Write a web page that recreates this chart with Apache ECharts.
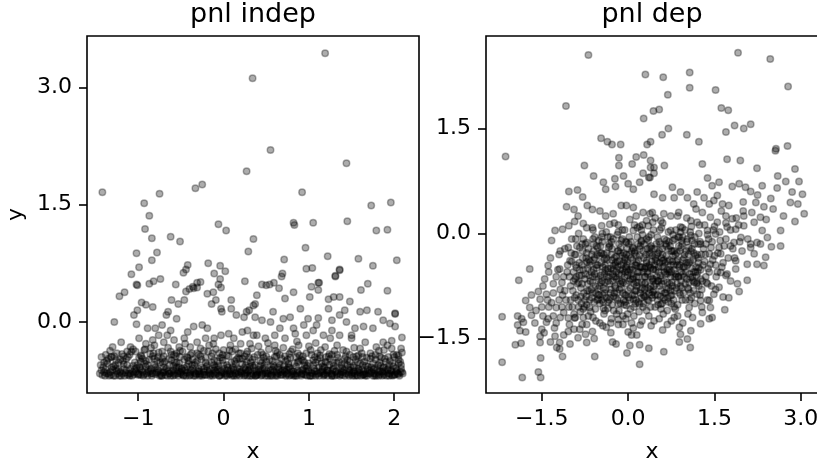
<!DOCTYPE html>
<html>
<head>
<meta charset="utf-8">
<script src="https://cdn.jsdelivr.net/npm/echarts@6/dist/echarts.min.js"></script>
<style>
  html, body { margin: 0; padding: 0; background: #fff; }
  #chart { width: 817px; height: 461px; }
</style>
</head>
<body>
<div id="chart"></div>
<script>
// pnl indep: points, [x, y]
const indepUpper = [
  [-1.42,1.66],[1.19,3.44],[0.34,3.12],[0.55,2.20],[0.27,1.93],[1.44,2.03],[-0.33,1.71],[-0.25,1.76],[-0.75,1.64],[-0.93,1.52],
  [-0.87,1.36],[0.92,1.66],[1.73,1.49],[1.96,1.53],[-0.06,1.25],[0.82,1.27],[0.83,1.24],[1.05,1.27],[1.45,1.29],[-0.92,1.19],
  [0.03,1.17],[1.79,1.17],[1.92,1.18],[-0.84,1.07],[-0.62,1.09],[-0.51,1.03],[0.35,1.06],[-1.02,0.88],[-0.78,0.89],[-0.84,0.79],
  [0.29,0.90],[0.96,0.95],[1.22,0.84],[0.71,0.80],[1.58,0.81],[1.75,0.72],[2.03,0.79],[-1.08,0.61],[-0.99,0.70],[-1.02,0.48],
  [-0.87,0.49],[-0.82,0.52],[-0.74,0.55],[-0.47,0.63],[-0.42,0.73],[-0.44,0.67],[-0.18,0.75],[-0.04,0.72],[0.02,0.65],[-0.11,0.62],
  [-0.04,0.55],[-0.06,0.48],[-0.56,0.48],[-0.31,0.50],[-0.36,0.45],[-0.40,0.42],[0.25,0.52],[0.97,0.68],[1.04,0.69],[0.69,0.62],
  [0.45,0.48],[0.50,0.47],[0.59,0.50],[0.65,0.43],[1.11,0.50],[1.03,0.45],[1.11,0.41],[1.31,0.59],[1.36,0.66],[1.61,0.41],
  [1.69,0.49],[1.92,0.40],[1.36,0.67],[1.31,0.58],[0.68,0.58],[0.54,0.48],[1.12,0.50],[-1.22,0.33],[-1.16,0.38],[-1.01,0.47],
  [-0.27,0.51]
];
const indepMiddle = [
  [-1.28,0.00],[-1.02,-0.03],[-1.05,0.09],[-1.01,0.15],[-0.96,0.25],[-0.91,0.22],[-0.83,0.19],[-0.65,0.13],[-0.67,0.09],[-0.61,0.28],
  [-0.53,0.23],[-0.55,0.04],[-0.46,0.28],[-0.44,0.39],[-0.35,0.43],[-0.31,0.44],[-0.19,0.36],[-0.12,0.38],[-0.03,0.44],[-0.09,0.28],
  [-0.14,0.23],[-0.03,0.17],[-0.02,0.13],[0.09,0.28],[0.09,0.17],[0.15,0.09],[0.24,0.06],[0.27,0.13],[0.30,0.15],[0.37,0.23],
  [0.37,0.06],[0.82,0.38],[0.72,0.30],[1.01,0.32],[1.23,0.29],[1.29,0.32],[1.36,0.32],[1.48,0.26],[0.39,0.34],[0.35,0.21],
  [0.58,0.13],[0.70,0.04],[0.78,0.06],[0.90,0.17],[0.99,0.04],[0.45,0.02],[0.55,0.00],[0.66,-0.08],[0.82,-0.08],[0.94,-0.04],
  [1.09,-0.04],[1.23,0.17],[1.27,0.02],[1.36,0.09],[1.42,0.15],[1.44,0.00],[1.60,0.13],[1.68,0.15],[1.81,0.13],[1.87,0.02],
  [1.95,-0.02],[2.01,0.11],[2.01,-0.06],[1.54,-0.08],[1.64,-0.06],[1.36,-0.17],[1.50,-0.17],[1.75,-0.08],[1.17,-0.17],[1.25,-0.21],
  [0.39,-0.17],[0.49,-0.21],[0.60,-0.17],[0.72,-0.21],[0.84,-0.15],[0.97,-0.17],[1.05,-0.11],[1.27,-0.11],[1.87,-0.26],[1.97,-0.24],
  [2.08,-0.34],[1.97,-0.34],[1.79,-0.32],[1.66,-0.26],[1.50,-0.21],[1.60,-0.34],[1.27,-0.42],[1.40,-0.36],[1.48,-0.42],[2.01,0.10],
  [-0.89,-0.08],[-0.80,-0.08],[-0.72,-0.04],[-0.62,-0.11],[-0.76,-0.17],[-0.83,-0.23],[-0.91,-0.28],[-0.99,-0.21],[-1.09,-0.32],[-1.20,-0.26],
  [-1.30,-0.32],[-1.31,-0.45],[-1.13,-0.38],[-1.03,-0.38],[-0.93,-0.36],[-0.81,-0.30],[-0.70,-0.26],[-0.66,-0.17],[-0.58,-0.23],[-0.46,-0.21],
  [-0.42,-0.13],[-0.35,-0.06],[-0.25,-0.04],[-0.19,-0.08],[-0.21,-0.21],[-0.31,-0.26],[-0.39,-0.32],[-0.27,-0.34],[-0.17,-0.30],[-0.11,-0.21],
  [-0.03,-0.17],[0.06,-0.15],[0.12,-0.21],[0.22,-0.13],[0.28,-0.11],[0.35,-0.17],[0.31,-0.28],[0.20,-0.28],[0.08,-0.30],[0.00,-0.36],
  [-0.05,-0.40],[-0.52,-0.32],[-0.62,-0.38],[-0.72,-0.38],[-0.48,-0.38],[-0.37,-0.40],[0.18,-0.40],[0.28,-0.38],[-1.38,-0.42],[-1.25,-0.40],
  [-1.17,-0.44],[-0.97,-0.43],[-0.86,-0.41],[-0.77,-0.45],[-0.56,-0.44],[-0.43,-0.45],[-0.29,-0.42],[-0.14,-0.44],[-0.09,-0.35],[0.04,-0.43],
  [0.14,-0.35],[0.25,-0.44],[0.41,-0.31],[0.46,-0.42],[0.53,-0.35],[0.62,-0.44],[0.70,-0.33],[0.77,-0.41],[0.88,-0.30],[0.93,-0.44],
  [1.02,-0.36],[1.08,-0.27],[1.13,-0.43],[1.19,-0.32],[1.33,-0.30],[1.56,-0.44],[1.72,-0.40],[1.83,-0.44],[1.92,-0.30],[2.05,-0.43],
  [2.09,-0.20],[1.11,0.05],[0.86,-0.25],[0.60,-0.30]
];
const indepLower = [
  [-1.45,-0.66],[-1.41,-0.58],[-1.39,-0.69],[-1.36,-0.53],[-1.33,-0.64],[-1.32,-0.68],[-1.29,-0.57],[-1.26,-0.49],[-1.24,-0.66],[-1.23,-0.61],
  [-1.20,-0.69],[-1.17,-0.54],[-1.15,-0.65],[-1.14,-0.47],[-1.12,-0.68],[-1.09,-0.60],[-1.07,-0.69],[-1.06,-0.56],[-1.03,-0.64],[-1.00,-0.68],
  [-0.97,-0.51],[-0.96,-0.62],[-0.94,-0.69],[-0.91,-0.57],[-0.90,-0.66],[-0.87,-0.48],[-0.86,-0.63],[-0.84,-0.69],[-0.81,-0.55],[-0.80,-0.67],
  [-0.78,-0.60],[-0.75,-0.69],[-0.74,-0.52],[-0.71,-0.65],[-0.70,-0.58],[-0.68,-0.68],[-0.65,-0.63],[-0.64,-0.47],[-0.62,-0.69],[-0.59,-0.56],
  [-0.58,-0.66],[-0.56,-0.61],[-0.53,-0.69],[-0.52,-0.53],[-0.50,-0.64],[-0.47,-0.68],[-0.46,-0.59],[-0.44,-0.69],[-0.41,-0.50],[-0.40,-0.66],
  [-0.38,-0.62],[-0.35,-0.69],[-0.34,-0.55],[-0.32,-0.67],[-0.29,-0.60],[-0.28,-0.69],[-0.26,-0.48],[-0.23,-0.64],[-0.22,-0.68],[-0.20,-0.57],
  [-0.17,-0.66],[-0.16,-0.69],[-0.14,-0.52],[-0.11,-0.62],[-0.10,-0.68],[-0.08,-0.58],[-0.05,-0.69],[-0.04,-0.46],[-0.02,-0.65],[0.01,-0.60],
  [0.02,-0.69],[0.04,-0.55],[0.07,-0.67],[0.08,-0.63],[0.10,-0.69],[0.13,-0.50],[0.14,-0.66],[0.16,-0.59],[0.19,-0.69],[0.20,-0.64],
  [0.22,-0.54],[0.25,-0.68],[0.26,-0.61],[0.28,-0.69],[0.31,-0.57],[0.32,-0.66],[0.34,-0.48],[0.37,-0.69],[0.38,-0.63],[0.40,-0.67],
  [0.43,-0.56],[0.44,-0.69],[0.46,-0.60],[0.49,-0.65],[0.50,-0.51],[0.52,-0.69],[0.55,-0.62],[0.56,-0.67],[0.58,-0.55],[0.61,-0.69],
  [0.62,-0.64],[0.64,-0.58],[0.67,-0.68],[0.68,-0.47],[0.70,-0.66],[0.73,-0.69],[0.74,-0.61],[0.76,-0.54],[0.79,-0.68],[0.80,-0.63],
  [0.82,-0.69],[0.85,-0.57],[0.86,-0.66],[0.88,-0.50],[0.91,-0.69],[0.92,-0.62],[0.94,-0.67],[0.97,-0.59],[0.98,-0.69],[1.00,-0.53],
  [1.03,-0.65],[1.04,-0.69],[1.06,-0.60],[1.09,-0.67],[1.10,-0.48],[1.12,-0.69],[1.15,-0.63],[1.16,-0.57],[1.18,-0.68],[1.21,-0.65],
  [1.22,-0.69],[1.24,-0.55],[1.27,-0.67],[1.28,-0.61],[1.30,-0.69],[1.33,-0.52],[1.34,-0.66],[1.36,-0.69],[1.39,-0.59],[1.40,-0.64],
  [1.42,-0.69],[1.45,-0.49],[1.46,-0.67],[1.48,-0.62],[1.51,-0.69],[1.52,-0.56],[1.54,-0.66],[1.57,-0.69],[1.58,-0.60],[1.60,-0.53],
  [1.63,-0.68],[1.64,-0.64],[1.66,-0.69],[1.69,-0.57],[1.70,-0.66],[1.72,-0.47],[1.75,-0.69],[1.76,-0.61],[1.78,-0.67],[1.81,-0.55],
  [1.82,-0.69],[1.84,-0.63],[1.87,-0.59],[1.88,-0.68],[1.90,-0.51],[1.93,-0.66],[1.94,-0.69],[1.96,-0.62],[1.99,-0.57],[2.00,-0.68],
  [2.02,-0.64],[2.05,-0.53],[2.06,-0.69],[2.08,-0.60],[2.10,-0.66],
  [-1.43,-0.62],[-1.37,-0.66],[-1.30,-0.61],[-1.27,-0.69],[-1.21,-0.64],[-1.16,-0.69],[-1.09,-0.66],[-1.04,-0.61],[-0.99,-0.67],[-0.95,-0.64],
  [-0.89,-0.69],[-0.85,-0.60],[-0.79,-0.65],[-0.73,-0.69],[-0.69,-0.62],[-0.63,-0.66],[-0.59,-0.69],[-0.53,-0.63],[-0.49,-0.67],[-0.45,-0.62],
  [-0.39,-0.68],[-0.35,-0.64],[-0.29,-0.66],[-0.25,-0.69],[-0.19,-0.62],[-0.15,-0.67],[-0.09,-0.64],[-0.05,-0.69],[0.01,-0.66],[0.05,-0.62],
  [0.11,-0.67],[0.15,-0.69],[0.19,-0.61],[0.25,-0.66],[0.29,-0.63],[0.33,-0.69],[0.39,-0.65],[0.43,-0.62],[0.49,-0.69],[0.53,-0.66],
  [0.57,-0.61],[0.63,-0.69],[0.67,-0.64],[0.71,-0.62],[0.77,-0.69],[0.81,-0.66],[0.87,-0.62],[0.91,-0.67],[0.97,-0.64],[1.01,-0.69],
  [1.07,-0.63],[1.11,-0.66],[1.17,-0.69],[1.21,-0.62],[1.27,-0.69],[1.31,-0.64],[1.37,-0.67],[1.41,-0.62],[1.47,-0.69],[1.51,-0.65],
  [1.57,-0.63],[1.61,-0.69],[1.67,-0.66],[1.71,-0.62],[1.77,-0.69],[1.81,-0.64],[1.87,-0.66],[1.91,-0.69],[1.97,-0.63],[2.01,-0.67],
  [2.07,-0.64],
  [-1.35,-0.47],[-1.23,-0.52],[-1.12,-0.45],[-1.01,-0.55],[-0.91,-0.50],[-0.81,-0.47],[-0.71,-0.53],[-0.61,-0.49],[-0.51,-0.45],[-0.41,-0.54],
  [-0.31,-0.50],[-0.21,-0.46],[-0.11,-0.55],[-0.01,-0.49],[0.09,-0.52],[0.17,-0.46],[0.27,-0.51],[0.37,-0.55],[0.47,-0.46],[0.57,-0.50],
  [0.65,-0.53],[0.75,-0.48],[0.85,-0.45],[0.95,-0.52],[1.05,-0.49],[1.15,-0.53],[1.25,-0.47],[1.35,-0.51],[1.45,-0.55],[1.55,-0.48],
  [1.65,-0.51],[1.75,-0.53],[1.85,-0.46],[1.95,-0.50],[2.05,-0.48]
];
const indepBand = [
  [-1.44,-0.55],[-1.40,-0.64],[-1.37,-0.50],[-1.34,-0.69],[-1.31,-0.58],[-1.28,-0.44],[-1.25,-0.63],[-1.22,-0.69],[-1.19,-0.41],[-1.17,-0.60],
  [-1.13,-0.55],[-1.11,-0.66],[-1.08,-0.38],[-1.05,-0.67],[-1.02,-0.59],[-0.99,-0.46],[-0.97,-0.68],[-0.93,-0.53],[-0.92,-0.35],[-0.88,-0.61],
  [-0.85,-0.66],[-0.83,-0.44],[-0.80,-0.58],[-0.77,-0.64],[-0.76,-0.39],[-0.72,-0.69],[-0.69,-0.51],[-0.67,-0.60],[-0.64,-0.66],[-0.61,-0.42],
  [-0.59,-0.62],[-0.57,-0.52],[-0.54,-0.66],[-0.51,-0.37],[-0.49,-0.60],[-0.47,-0.69],[-0.43,-0.57],[-0.42,-0.46],[-0.39,-0.64],[-0.37,-0.55],
  [-0.33,-0.69],[-0.31,-0.40],[-0.28,-0.63],[-0.26,-0.58],[-0.24,-0.67],[-0.21,-0.52],[-0.18,-0.38],[-0.16,-0.61],[-0.13,-0.69],[-0.11,-0.49],
  [-0.08,-0.66],[-0.06,-0.56],[-0.03,-0.63],[-0.01,-0.42],[0.03,-0.67],[0.05,-0.58],[0.07,-0.36],[0.09,-0.61],[0.12,-0.69],[0.14,-0.54],
  [0.17,-0.64],[0.19,-0.47],[0.21,-0.66],[0.24,-0.59],[0.27,-0.41],[0.29,-0.62],[0.31,-0.69],[0.34,-0.56],[0.36,-0.45],[0.39,-0.68],
  [0.41,-0.61],[0.44,-0.39],[0.46,-0.66],[0.48,-0.55],[0.51,-0.63],[0.54,-0.48],[0.57,-0.69],[0.59,-0.58],[0.61,-0.37],[0.64,-0.66],
  [0.66,-0.55],[0.69,-0.62],[0.72,-0.44],[0.74,-0.67],[0.77,-0.58],[0.79,-0.38],[0.82,-0.63],[0.84,-0.69],[0.87,-0.52],[0.89,-0.43],
  [0.92,-0.66],[0.95,-0.56],[0.97,-0.40],[0.99,-0.62],[1.02,-0.69],[1.05,-0.55],[1.07,-0.45],[1.09,-0.63],[1.12,-0.58],[1.14,-0.36],
  [1.17,-0.66],[1.19,-0.51],[1.22,-0.62],[1.24,-0.41],[1.27,-0.69],[1.29,-0.56],[1.32,-0.63],[1.34,-0.46],[1.37,-0.60],[1.39,-0.68],
  [1.42,-0.53],[1.44,-0.38],[1.47,-0.64],[1.49,-0.58],[1.52,-0.45],[1.54,-0.69],[1.57,-0.52],[1.59,-0.62],[1.62,-0.40],[1.64,-0.67],
  [1.67,-0.56],[1.69,-0.61],[1.72,-0.66],[1.74,-0.44],[1.77,-0.59],[1.79,-0.69],[1.82,-0.37],[1.84,-0.56],[1.86,-0.64],[1.89,-0.47],
  [1.92,-0.61],[1.94,-0.55],[1.97,-0.68],[1.99,-0.42],[2.02,-0.59],[2.04,-0.66],[2.07,-0.51],[2.09,-0.39]
];
const indepFloor = [
  [-1.42,-0.68],[-1.38,-0.61],[-1.35,-0.66],[-1.29,-0.69],[-1.26,-0.60],[-1.19,-0.66],[-1.14,-0.62],[-1.10,-0.69],[-1.06,-0.64],[-1.01,-0.66],
  [-0.98,-0.60],[-0.93,-0.67],[-0.88,-0.64],[-0.83,-0.66],[-0.77,-0.62],[-0.74,-0.67],[-0.70,-0.64],[-0.66,-0.69],[-0.61,-0.64],[-0.57,-0.68],
  [-0.55,-0.58],[-0.51,-0.66],[-0.48,-0.62],[-0.43,-0.65],[-0.40,-0.69],[-0.36,-0.60],[-0.33,-0.66],[-0.30,-0.63],[-0.27,-0.67],[-0.23,-0.60],
  [-0.20,-0.68],[-0.17,-0.64],[-0.12,-0.66],[-0.07,-0.61],[-0.03,-0.68],[0.00,-0.64],[0.04,-0.69],[0.08,-0.66],[0.12,-0.61],[0.17,-0.67],
  [0.21,-0.63],[0.24,-0.69],[0.27,-0.65],[0.31,-0.61],[0.35,-0.67],[0.38,-0.69],[0.42,-0.64],[0.45,-0.68],[0.48,-0.60],[0.51,-0.66],
  [0.55,-0.69],[0.59,-0.64],[0.62,-0.67],[0.65,-0.61],[0.69,-0.68],[0.72,-0.64],[0.75,-0.66],[0.78,-0.60],[0.83,-0.67],[0.86,-0.69],
  [0.89,-0.64],[0.93,-0.61],[0.96,-0.68],[1.00,-0.63],[1.04,-0.66],[1.08,-0.69],[1.13,-0.65],[1.16,-0.61],[1.19,-0.67],[1.23,-0.63],
  [1.26,-0.66],[1.29,-0.60],[1.33,-0.68],[1.38,-0.64],[1.43,-0.66],[1.46,-0.61],[1.50,-0.67],[1.53,-0.63],[1.56,-0.68],[1.59,-0.65],
  [1.62,-0.61],[1.65,-0.67],[1.68,-0.69],[1.73,-0.64],[1.76,-0.66],[1.80,-0.61],[1.83,-0.67],[1.86,-0.69],[1.89,-0.63],[1.93,-0.60],
  [1.95,-0.66],[1.98,-0.69],[2.03,-0.62],[2.05,-0.67],[2.09,-0.64],
  [-1.33,-0.37],[-1.21,-0.48],[-1.06,-0.35],[-0.95,-0.47],[-0.85,-0.33],[-0.72,-0.47],[-0.65,-0.33],[-0.55,-0.40],[-0.45,-0.28],[-0.36,-0.48],
  [-0.23,-0.37],[-0.12,-0.28],[-0.02,-0.46],[0.10,-0.38],[0.22,-0.47],[0.33,-0.34],[0.43,-0.50],[0.52,-0.27],[0.63,-0.39],[0.73,-0.50],
  [0.81,-0.35],[0.91,-0.48],[1.00,-0.31],[1.10,-0.40],[1.20,-0.45],[1.30,-0.37],[1.42,-0.47],[1.53,-0.33],[1.63,-0.45],[1.78,-0.48],
  [1.88,-0.36],[2.00,-0.45]
];
const indepShoulder = [
  [-1.40,-0.52],[-1.32,-0.45],[-1.27,-0.55],[-1.18,-0.50],[-1.10,-0.42],[-1.04,-0.52],[-0.96,-0.44],[-0.89,-0.55],[-0.82,-0.40],[-0.78,-0.50],
  [-0.70,-0.44],[-0.63,-0.55],[-0.58,-0.42],[-0.52,-0.58],[-0.46,-0.48],[-0.39,-0.42],[-0.33,-0.52],[-0.27,-0.44],[-0.19,-0.55],[-0.13,-0.40],
  [-0.07,-0.50],[0.00,-0.55],[0.06,-0.44],[0.11,-0.58],[0.15,-0.48],[0.20,-0.40],[0.26,-0.55],[0.30,-0.46],[0.35,-0.58],[0.40,-0.42],
  [0.45,-0.52],[0.50,-0.44],[0.56,-0.57],[0.60,-0.45],[0.66,-0.42],[0.71,-0.56],[0.78,-0.46],[0.83,-0.53],[0.87,-0.40],[0.93,-0.49],
  [0.98,-0.56],[1.03,-0.42],[1.08,-0.52],[1.13,-0.46],[1.18,-0.58],[1.23,-0.44],[1.28,-0.52],[1.33,-0.42],[1.38,-0.55],[1.43,-0.44],
  [1.48,-0.51],[1.53,-0.58],[1.58,-0.43],[1.63,-0.55],[1.68,-0.46],[1.73,-0.58],[1.78,-0.42],[1.83,-0.52],[1.88,-0.58],[1.93,-0.45],
  [1.98,-0.53],[2.03,-0.42],[2.08,-0.55],[-1.43,-0.45],[-0.98,-0.58],[-0.55,-0.52],[-0.10,-0.58],[0.32,-0.52],[0.76,-0.58],[1.20,-0.52]
];

// pnl dep: points, [x, y]
const depOuter = [
  [-0.69,2.55],[1.91,2.58],[2.47,2.49],[0.30,2.27],[0.61,2.23],[1.07,2.30],[1.07,2.08],[1.52,2.05],[2.78,2.10],[0.69,1.98],
  [-1.08,1.82],[1.62,1.79],[1.74,1.76],[0.27,1.64],[0.44,1.75],[0.54,1.77],[0.70,1.50],[0.59,1.41],[1.02,1.41],[1.23,1.31],
  [1.70,1.45],[1.85,1.54],[2.01,1.50],[2.13,1.56],[2.57,1.21],[2.77,1.25],[-2.13,1.10],[-0.47,1.36],[-0.36,1.31],[-0.28,1.27],
  [-0.13,1.27],[-0.76,0.97],[0.33,1.27],[0.39,1.31],[2.90,0.17],
  [-1.90,-0.67],[-2.19,-1.19],[-2.19,-1.84],[-1.84,-2.06],[-1.56,-1.98],[-1.52,-2.06],[-1.52,-1.78],[-1.96,-1.59],[-1.86,-1.57],[-1.92,-1.18],
  [-1.85,-1.22],[-1.92,-1.31],[-1.88,-1.39],[-1.78,-1.41],[-1.82,-1.27],[-1.78,-0.96],[-1.71,-1.06],[-1.68,-1.17],[-1.68,-0.88],[-1.71,-0.51],
  [-1.53,-1.56],[-1.53,-1.47],[-1.50,-1.37],[-1.42,-1.27],[-1.48,-1.18],[-1.39,-1.22],[-1.30,-1.18],[-1.25,-1.06],[-1.33,-0.99],[-1.53,-0.94],
  [-1.42,-0.87],[-1.56,-0.83],[-1.27,-1.47],[-1.19,-1.56],[-1.24,-1.63],[-1.19,-1.65],[-1.14,-1.76],[-1.01,-1.58],[-1.04,-1.40],[-0.94,-1.37],
  [-0.84,-1.37],[-0.87,-1.49],[-0.74,-1.44],[-0.72,-1.56],[-0.59,-1.50],[-0.58,-1.76],[-0.27,-1.55],[-0.21,-1.58],[0.00,-1.41],[0.06,-1.45],
  [0.03,-1.60],[0.20,-1.59],[0.36,-1.64],[0.20,-1.87],[-0.02,-1.71],[0.62,-1.69],[1.08,-1.63],
  [0.89,-1.55],[1.03,-1.51],[0.91,-1.44],[0.89,-1.34],[1.09,-1.39],[1.26,-1.29],[1.41,-1.22],[1.46,-1.20],[1.29,-1.13],[1.43,-1.06],
  [1.26,-0.96],[1.41,-0.96],[1.49,-0.87],[1.68,-1.09],[1.75,-0.92],[1.65,-0.91],[1.93,-0.83],[1.90,-0.72],[2.07,-0.67],
  [-1.60,-1.10],[-1.46,-1.42],[-1.38,-1.05],[-1.28,-1.35],[-1.20,-0.95],[-1.12,-1.45],[-1.35,-1.55],[-1.62,-1.28],[-1.15,-0.70],[-1.48,-0.75]
];
const depUpperCloud = [
  [-0.16,1.08],[-0.16,0.97],[0.07,0.99],[0.14,1.09],[0.27,1.12],[0.39,0.94],[-0.60,0.82],[-0.43,0.73],[-0.39,0.63],[-0.23,0.78],
  [-0.22,0.67],[-0.08,0.82],[0.00,0.71],[0.09,0.63],[0.20,0.73],[0.26,0.86],[0.38,0.80],[-1.03,0.60],[-0.88,0.62],[-0.79,0.52],
  [-1.07,0.38],[-0.94,0.34],[-0.87,0.25],[-0.71,0.40],[-0.62,0.34],[-0.49,0.32],[-0.39,0.25],[-0.26,0.28],[-0.12,0.40],[-0.03,0.40],
  [0.09,0.37],[0.14,0.25],[0.26,0.30],[0.38,0.28],[-1.27,0.04],[-1.14,0.06],[-1.03,0.11],[-0.93,0.17],[-0.78,0.14],[-0.72,0.08],
  [-0.61,0.05],[-0.46,0.11],[-0.32,0.13],[-0.17,0.12],[-0.06,0.05],[0.09,0.04],[0.20,0.10],[0.35,0.11],[0.43,0.16],[-1.33,-0.10],
  [-1.18,-0.25],[-1.04,-0.20],[-0.91,-0.08],[-0.84,-0.20],[-0.72,-0.13],[-0.61,-0.08],[-0.46,-0.05],[-0.32,-0.18],[-0.17,-0.25],[-0.03,-0.13],
  [0.09,-0.22],[0.23,-0.10],[0.38,-0.20],[-1.39,-0.46],[-1.19,-0.51],[-1.01,-0.39],[-0.90,-0.49],[-0.72,-0.41],[-0.55,-0.49],[-0.41,-0.37],
  [-0.26,-0.46],[-0.15,-0.39],[-0.03,-0.51],[0.14,-0.46],[0.32,-0.39],[0.43,-0.51],
  [0.39,1.04],[0.45,0.94],[0.63,0.97],[0.36,0.80],[0.45,0.86],[1.29,0.99],[1.72,1.06],[1.95,1.04],[2.24,0.93],[2.56,1.18],
  [1.38,0.79],[1.46,0.68],[1.58,0.73],[1.81,0.67],[1.93,0.71],[2.04,0.66],[2.13,0.60],[2.33,0.68],[2.59,0.65],[2.74,0.74],
  [2.90,0.92],[2.97,0.74],[2.85,0.59],[3.03,0.56],[2.82,0.44],[3.06,0.28],[2.48,0.50],[2.36,0.38],[2.22,0.44],[0.45,0.56],
  [0.60,0.51],[0.77,0.66],[0.80,0.51],[0.91,0.59],[1.03,0.51],[1.14,0.42],[1.20,0.59],[1.32,0.51],[1.41,0.42],[1.49,0.47],
  [1.55,0.54],[1.64,0.42],[1.29,0.30],[1.43,0.23],[1.55,0.16],[1.70,0.25],[1.81,0.21],[2.01,0.25],[2.01,0.11],[1.87,0.06],
  [1.72,0.09],[2.19,0.16],[2.30,0.23],[2.33,0.04],[2.42,-0.06],[2.24,-0.13],[2.13,-0.20],[1.98,-0.25],[1.84,-0.13],[1.70,-0.08],
  [1.52,-0.01],[1.38,0.04],[1.20,0.16],[1.09,0.18],[0.91,0.09],[0.74,0.04],[0.57,0.18],[0.42,0.30],[0.62,0.28],[0.86,0.25],
  [2.65,0.04],[2.65,-0.18],[2.49,-0.19],[2.39,-0.34],[2.24,-0.44],[2.36,-0.46],
  [2.13,-0.15],[1.87,-0.39],[1.72,-0.58],[1.58,-0.77],[1.38,-0.72],[1.20,-0.87],[1.06,-1.06],[0.86,-1.18],[0.68,-1.10],[0.45,-1.25],
  [0.57,-1.01],[0.74,-0.89],[0.91,-0.75],[1.09,-0.63],[1.23,-0.49],[1.43,-0.44],[1.61,-0.29],[1.78,-0.18],[1.96,-0.06],[0.68,-0.58],
  [0.51,-0.68],[0.39,-0.49],[0.60,-0.39],[0.77,-0.25],[0.94,-0.15],[1.09,-0.03],[1.26,-0.15],[1.41,-0.29],[1.61,-0.56],[1.78,-0.68],
  [1.87,-0.51],[2.07,-0.44],[2.19,-0.29],[2.30,-0.15],
  [-0.43,-1.07],[-0.35,-1.07],[-0.17,-1.01],[-0.03,-1.03],[0.09,-0.94],[0.20,-1.01],[0.36,-0.96],[0.43,-0.84],[0.29,-0.80],[0.14,-0.70],
  [0.21,-1.31],[0.06,-1.28],[-0.09,-1.30],[-0.17,-1.23],[-0.29,-1.22],[-0.38,-1.34],[-0.49,-1.28],[-0.61,-1.20],[-0.72,-1.30],[-0.78,-1.20],
  [-0.93,-1.21],[-1.04,-1.21],[-1.12,-1.13],[-0.93,-0.92],[-0.78,-1.08],[-0.67,-1.06],[-0.52,-0.94]
];
const depCore = [
  [-0.95,-0.55],[-0.88,-0.72],[-0.81,-0.60],[-0.77,-0.85],[-0.70,-0.50],[-0.66,-0.68],[-0.63,-0.92],[-0.58,-0.35],[-0.55,-0.62],[-0.52,-0.79],
  [-0.48,-0.18],[-0.45,-0.55],[-0.43,-0.98],[-0.40,-0.70],[-0.37,-0.28],[-0.34,-0.62],[-0.31,-0.85],[-0.29,-0.12],[-0.26,-0.52],[-0.23,-0.75],
  [-0.21,-0.33],[-0.18,-0.95],[-0.16,-0.58],[-0.13,-0.20],[-0.11,-0.68],[-0.08,-0.42],[-0.06,-0.88],[-0.03,-0.30],[-0.01,-0.60],[0.02,-0.05],
  [0.04,-0.78],[0.07,-0.48],[0.10,-1.05],[0.12,-0.25],[0.15,-0.62],[0.18,-0.38],[0.21,-0.85],[0.23,-0.12],[0.26,-0.55],[0.29,-0.72],
  [0.31,-0.30],[0.34,-0.95],[0.37,-0.45],[0.40,-0.18],[0.42,-0.65],[0.45,-0.82],[0.48,-0.35],[0.51,-0.05],[0.53,-0.55],[0.56,-0.90],
  [0.59,-0.22],[0.62,-0.68],[0.64,-0.42],[0.67,-0.10],[0.70,-0.78],[0.72,-0.52],[0.75,-1.00],[0.78,-0.32],[0.81,-0.62],[0.83,0.05],
  [0.86,-0.45],[0.89,-0.85],[0.92,-0.20],[0.95,-0.58],[0.97,-0.35],[1.00,-0.95],[1.03,-0.08],[1.06,-0.70],[1.08,-0.40],[1.11,-0.22],
  [1.14,-0.82],[1.17,-0.55],[1.20,-0.30],[1.23,0.00],[1.26,-0.65],
  [-1.18,-0.80],[-1.12,-0.62],[-1.08,-0.95],[-1.05,-0.45],[-1.00,-0.75],[-0.97,-1.05],[-0.93,-0.30],[-0.90,-0.88],[-0.85,-0.42],[-0.83,-1.12],
  [-0.79,-0.25],[-0.75,-0.65],[-0.72,-1.02],[-0.68,-0.38],[-0.64,-0.80],[-0.60,-0.15],[-0.57,-1.08],[-0.53,-0.45],[-0.50,-0.88],[-0.46,-0.28],
  [-0.42,-1.15],[-0.39,-0.52],[-0.35,-0.05],[-0.33,-0.95],[-0.28,-0.38],[-0.25,-1.10],[-0.22,-0.62],[-0.19,-0.02],[-0.15,-0.80],[-0.12,-0.45],
  [-0.09,-1.18],[-0.05,-0.55],[-0.02,-0.22],[0.01,-0.92],[0.05,-0.35],[0.08,-0.65],[0.11,0.12],[0.14,-0.82],[0.17,-0.15],[0.19,-1.12],
  [0.22,-0.48],[0.25,-0.02],[0.28,-0.90],[0.30,-0.62],[0.33,-0.22],[0.36,-1.18],[0.39,-0.75],[0.41,-0.40],[0.44,0.05],[0.47,-1.05],
  [0.50,-0.62],[0.52,-0.28],[0.55,-0.75],[0.58,0.08],[0.61,-1.15],[0.63,-0.55],[0.66,-0.32],[0.69,-0.92],[0.73,-0.18],[0.76,-0.70],
  [0.79,-0.45],[0.82,-1.08],[0.85,-0.28],[0.88,-0.62],[0.91,0.02],[0.94,-0.95],[0.98,-0.48],[1.01,-0.25],[1.04,-1.15],[1.07,-0.58],
  [1.10,0.10],[1.13,-0.38],[1.16,-1.00],[1.19,-0.72],[1.22,-0.15],[1.25,-0.88],[1.30,-0.45],[1.35,-0.62],[1.40,-0.08],[1.45,-0.75],
  [1.50,-0.32],[1.55,-0.55],[1.60,-0.10],[1.65,-0.42],
  [-1.45,-0.65],[-1.40,-0.95],[-1.35,-0.35],[-1.30,-0.72],[-1.25,-1.28],[-1.22,-0.52],[-1.15,-1.05],[-1.10,-0.22],[-1.02,-1.30],[-0.98,-0.08],
  [-0.92,-1.20],[-0.86,0.00],[-0.80,-1.30],[-0.74,-0.15],[-0.69,-1.18],[-0.62,0.08],[-0.56,-1.25],[-0.51,-0.10],[-0.44,-1.32],[-0.38,0.02],
  [-0.30,-1.28],[-0.24,0.15],[-0.17,-1.30],[-0.10,-0.08],[-0.04,-1.22],[0.03,0.20],[0.09,-1.35],[0.16,0.08],[0.24,-1.25],[0.32,0.18],
  [0.40,-1.32],[0.47,0.22],[0.54,-1.22],[0.60,0.15],[0.68,-1.30],[0.74,0.25],[0.80,-1.20],[0.88,0.30],[0.95,-1.28],[1.02,0.22],
  [1.12,-1.20],[1.18,0.35],[1.28,-1.05],[1.33,0.12],[1.38,-0.95],[1.48,0.05],[1.52,-0.80],[1.62,0.32],[1.70,-0.60],[1.75,0.40],
  [1.85,-0.35],[1.92,0.12],[2.00,0.45],[2.08,-0.08],[2.15,0.30],[2.25,0.55],[2.40,0.20],[2.52,0.35],[2.60,0.82],[2.70,0.25],
  [2.95,0.42]
];
const depDense = [
  [-1.02,-0.62],[-0.98,-0.40],[-0.96,-0.82],[-0.92,-0.65],[-0.89,-0.18],[-0.87,-0.95],[-0.84,-0.52],[-0.82,-0.78],[-0.79,-0.35],[-0.76,-1.05],
  [-0.74,-0.58],[-0.71,-0.82],[-0.69,-0.22],[-0.67,-0.45],[-0.65,-1.12],[-0.62,-0.70],[-0.60,-0.52],[-0.58,-0.05],[-0.56,-0.85],[-0.54,-0.30],
  [-0.51,-0.65],[-0.49,-1.00],[-0.47,-0.42],[-0.45,-0.12],[-0.43,-0.78],[-0.41,-0.58],[-0.38,-0.92],[-0.36,-0.38],[-0.34,-0.20],[-0.32,-0.72],
  [-0.30,-0.50],[-0.28,-1.02],[-0.26,-0.08],[-0.24,-0.85],[-0.22,-0.42],[-0.20,-0.65],[-0.18,-0.25],[-0.16,-1.10],[-0.14,-0.52],[-0.12,-0.78],
  [-0.10,-0.32],[-0.08,-0.95],[-0.06,-0.62],[-0.04,-0.12],[-0.02,-0.45],[0.00,-0.82],[0.02,-0.30],[0.04,-1.08],[0.06,-0.58],[0.08,-0.20],
  [0.10,-0.72],[0.12,-0.45],[0.14,-0.95],[0.16,-0.05],[0.18,-0.62],[0.20,-0.32],[0.22,-0.80],[0.24,-0.48],[0.26,-1.05],[0.28,-0.15],
  [0.30,-0.70],[0.32,-0.42],[0.34,-0.58],[0.36,-0.85],[0.38,-0.28],[0.40,-0.02],[0.42,-0.92],[0.44,-0.52],[0.46,-0.22],[0.48,-0.72],
  [0.50,-0.40],[0.52,-1.02],[0.54,-0.12],[0.56,-0.60],[0.58,-0.82],[0.60,-0.30],[0.62,-0.48],[0.64,-0.95],[0.66,-0.18],[0.68,-0.70],
  [0.70,0.02],[0.72,-0.38],[0.74,-0.62],[0.76,-0.88],[0.78,-0.10],[0.80,-0.52],[0.82,-0.30],[0.84,-0.78],[0.86,-1.02],[0.88,-0.18],
  [0.90,-0.45],[0.92,-0.68],[0.94,0.08],[0.96,-0.85],[0.98,-0.30],[1.00,-0.55],[1.02,-0.12],[1.04,-0.78],[1.06,-0.42],[1.08,0.02],
  [1.10,-0.92],[1.12,-0.62],[1.14,-0.28],[1.16,-0.05],[1.18,-0.48],[1.20,-0.70],[1.22,-0.35],[1.24,0.12],[1.26,-0.52],[1.28,-0.80],
  [1.31,-0.22],[1.33,-0.40],[1.36,-0.70],[1.38,-0.02],[1.41,-0.55],[1.44,-0.20],[1.47,-0.38],[1.50,0.10],[1.53,-0.62],[1.56,-0.28],
  [1.59,0.02],[1.63,-0.48],[1.67,-0.18],[1.70,0.15],[1.74,-0.35],[1.78,0.05],[1.82,-0.22],[1.88,0.22],[1.94,-0.12],[2.00,0.32],
  [-1.10,-0.82],[-1.06,-0.55],[-1.03,-1.05],[-0.99,-0.28],[-0.94,-1.15],[-0.91,-0.45],[-0.86,-0.70],[-0.81,-1.00],[-0.78,-0.08],[-0.73,-0.90],
  [-0.68,-0.60],[-0.63,-0.30],[-0.59,-0.98],[-0.55,-0.18],[-0.50,-0.75],[-0.44,-0.48],[-0.40,-1.10],[-0.35,-0.68],[-0.29,-0.30],[-0.25,-0.90],
  [-0.21,-0.55],[-0.17,0.02],[-0.13,-1.00],[-0.09,-0.70],[-0.05,-0.35],[-0.01,-1.15],[0.03,-0.52],[0.07,-0.88],[0.11,-0.28],[0.15,-0.75],
  [0.19,-0.55],[0.23,0.05],[0.27,-0.88],[0.31,-0.48],[0.35,-0.10],[0.39,-1.05],[0.43,-0.68],[0.47,-0.38],[0.51,-0.88],[0.55,-0.42],
  [0.59,-1.00],[0.63,-0.08],[0.67,-0.80],[0.71,-0.55],[0.75,-0.25],[0.79,-0.95],[0.83,-0.58],[0.87,-0.05],[0.91,-0.88],[0.95,-0.38],
  [0.99,-0.72],[1.03,-0.45],[1.07,-0.95],[1.11,-0.50],[1.15,-0.15],[1.19,-0.60],[1.23,-0.75],[1.27,-0.30],[-1.25,-0.62],[-1.20,-0.30],
  [-1.14,-0.88],[-1.30,-0.85],[-1.38,-0.55],[-1.50,-1.05],[-1.18,-1.20],[-0.62,-1.40],[-0.30,-1.42],[0.15,-1.45],[0.60,-1.38],[0.75,-1.25]
];
const depHeart = [
  [-0.70,-0.72],[-0.66,-0.40],[-0.62,-0.85],[-0.58,-0.58],[-0.54,-0.95],[-0.50,-0.32],[-0.47,-0.70],[-0.44,-0.88],[-0.40,-0.45],[-0.37,-0.62],
  [-0.33,-0.15],[-0.30,-0.80],[-0.27,-0.58],[-0.24,-0.35],[-0.21,-0.92],[-0.18,-0.48],[-0.15,-0.68],[-0.12,-0.10],[-0.09,-0.85],[-0.06,-0.38],
  [-0.03,-0.72],[0.00,-0.55],[0.03,-0.95],[0.06,-0.25],[0.09,-0.62],[0.12,-0.82],[0.15,-0.42],[0.18,-0.98],[0.21,-0.18],[0.24,-0.70],
  [0.27,-0.35],[0.30,-0.90],[0.33,-0.55],[0.36,-0.05],[0.39,-0.62],[0.42,-0.32],[0.45,-0.75],[0.48,-0.52],[0.51,-0.95],[0.54,-0.25],
  [0.57,-0.65],[0.60,-0.48],[0.63,-0.85],[0.66,-0.15],[0.69,-0.40],[0.72,-0.72],[0.75,-0.55],[0.78,-0.02],[0.81,-0.82],[0.84,-0.40],
  [0.87,-0.62],[0.90,-0.25],[0.93,-0.78],[0.96,-0.48],[0.99,0.05],[1.02,-0.65],[1.05,-0.30],[1.08,-0.85],[1.11,-0.10],[1.14,-0.55],
  [-0.85,-0.60],[-0.80,-0.45],[-0.75,-0.95],[-0.72,-0.28],[-0.68,-0.82],[-0.64,-0.55],[-0.60,-0.38],[-0.57,-0.75],[-0.53,-0.20],[-0.48,-0.60],
  [-0.46,-0.95],[-0.42,-0.30],[-0.39,-0.80],[-0.35,-0.50],[-0.31,-0.05],[-0.27,-0.68],[-0.23,-0.45],[-0.19,-0.85],[-0.14,-0.28],[-0.11,-0.58],
  [-0.07,-1.02],[-0.04,-0.48],[0.01,-0.15],[0.04,-0.65],[0.08,-0.38],[0.13,-1.00],[0.17,-0.55],[0.20,-0.22],[0.25,-0.78],[0.29,-0.50],
  [0.34,-0.78],[0.37,-0.30],[0.41,-0.88],[0.46,-0.45],[0.49,-0.15],[0.53,-0.68],[0.58,-0.35],[0.62,-0.92],[0.65,-0.58],[0.70,-0.22],
  [0.74,-0.82],[0.77,-0.40],[0.81,-0.08],[0.85,-0.72],[0.89,-0.48],[0.93,-0.10],[0.97,-0.62],[1.01,-0.42],[1.05,-0.80],[1.09,-0.25],
  [1.13,-0.68],[1.17,-0.32],[1.21,-0.55],[1.25,-0.12],[1.29,-0.68],[1.34,-0.30],[1.39,-0.50],[1.46,-0.12],[1.52,-0.45],[1.58,-0.20],
  [-1.00,-0.95],[-0.95,-0.68],[-0.91,-0.30],[-0.86,-1.05],[-0.80,-0.72],[-0.20,-1.15],[0.10,-1.18],[0.32,-1.10],[0.57,-1.08],[0.80,-1.05],
  [-0.62,-0.62],[-0.55,-0.45],[-0.52,-0.88],[-0.48,-0.28],[-0.45,-0.68],[-0.41,-0.85],[-0.38,-0.35],[-0.34,-0.55],[-0.31,-0.92],[-0.28,-0.22],
  [-0.25,-0.62],[-0.22,-0.78],[-0.19,-0.40],[-0.16,-0.15],[-0.13,-0.72],[-0.10,-0.52],[-0.07,-0.28],[-0.04,-0.88],[-0.01,-0.40],[0.02,-0.68],
  [0.05,-0.12],[0.08,-0.52],[0.11,-0.88],[0.14,-0.32],[0.17,-0.70],[0.20,-0.48],[0.23,-0.92],[0.26,-0.25],[0.29,-0.62],[0.32,-0.08],
  [0.35,-0.48],[0.38,-0.80],[0.41,-0.22],[0.44,-0.65],[0.47,-0.88],[0.50,-0.30],[0.53,-0.48],[0.56,-0.15],[0.59,-0.72],[0.62,-0.38],
  [0.65,-0.85],[0.68,-0.52],[0.71,-0.12],[0.74,-0.45],[0.77,-0.75],[0.80,-0.25],[0.83,-0.62],[0.86,-0.38],[0.89,-0.05],[0.92,-0.55],
  [-0.90,-0.62],[-0.82,-0.90],[-0.78,-0.52],[-0.73,-0.35],[-0.67,-0.95],[-0.60,-0.25],[-0.35,-0.98],[-0.05,-0.98],[0.27,-1.00],[0.70,-0.98],
  [1.05,-0.20],[1.15,-0.70],[1.22,-0.42],[1.35,-0.15],[-0.10,0.05],[0.25,0.12],[-0.45,0.00],[0.55,0.05],[0.95,-0.05],[-0.80,-0.15]
];

const indepXTicks = [-1, 0, 1, 2];
const indepYTicks = [0, 1.5, 3];
const depXTicks = [-1.5, 0, 1.5, 3];
const depYTicks = [-1.5, 0, 1.5];

const FONT = 'DejaVu Sans';
const minus = v => (v < 0 ? '\u2212' : '');
const fmtInt = v => minus(v) + Math.abs(v);
const fmtOne = v => minus(v) + Math.abs(v).toFixed(1);

function makeAxis(gridIndex, min, max, ticks, formatter, name, nameGap) {
  return {
    type: 'value',
    gridIndex,
    min,
    max,
    name,
    nameLocation: 'middle',
    nameGap,
    nameTextStyle: { color: '#000', fontSize: 22, fontFamily: FONT },
    axisLine: { show: false, onZero: false },
    splitLine: { show: false },
    axisTick: {
      show: true,
      length: 8,
      customValues: ticks,
      lineStyle: { color: '#000', width: 1.6 },
    },
    axisLabel: {
      customValues: ticks,
      formatter,
      color: '#000',
      fontSize: 22,
      fontFamily: FONT,
      margin: 15,
    },
  }
}

const markStyle = {
  color: 'rgba(0,0,0,0.4)',
  borderColor: 'rgba(0,0,0,0.4)',
  borderWidth: 1.5,
};

const chart = echarts.init(document.getElementById('chart'), null, { renderer: 'canvas' });
chart.setOption({
  animation: false,
  backgroundColor: '#fff',
  title: [
    { text: 'pnl indep', left: 253, top: 1, textAlign: 'center', padding: 0,
      textStyle: { color: '#000', fontSize: 27, fontWeight: 'normal', fontFamily: FONT } },
    { text: 'pnl dep', left: 652, top: 1, textAlign: 'center', padding: 0,
      textStyle: { color: '#000', fontSize: 27, fontWeight: 'normal', fontFamily: FONT } },
  ],
  grid: [
    { left: 87, top: 36, width: 332, height: 357, outerBoundsMode: 'none',
      show: true, borderColor: '#000', borderWidth: 1.6 },
    { left: 486, top: 36, width: 332, height: 357, outerBoundsMode: 'none',
      show: true, borderColor: '#000', borderWidth: 1.6 },
  ],
  xAxis: [
    makeAxis(0, -1.60, 2.29, indepXTicks, fmtInt, 'x', 48),
    makeAxis(1, -2.47, 3.30, depXTicks, fmtOne, 'x', 48),
  ],
  yAxis: [
    makeAxis(0, -0.91, 3.66, indepYTicks, fmtOne, 'y', 60),
    makeAxis(1, -2.28, 2.82, depYTicks, fmtOne, '', 0),
  ],
  series: [
    {
      name: 'pnl indep',
      type: 'scatter',
      xAxisIndex: 0,
      yAxisIndex: 0,
      symbolSize: 6.5,
      silent: true,
      itemStyle: markStyle,
      data: indepUpper.concat(indepMiddle, indepLower, indepBand, indepFloor, indepShoulder),
    },
    {
      name: 'pnl dep',
      type: 'scatter',
      xAxisIndex: 1,
      yAxisIndex: 1,
      symbolSize: 6.5,
      silent: true,
      itemStyle: markStyle,
      data: depOuter.concat(depUpperCloud, depCore, depDense, depHeart),
    },
  ],
});
</script>
</body>
</html>
